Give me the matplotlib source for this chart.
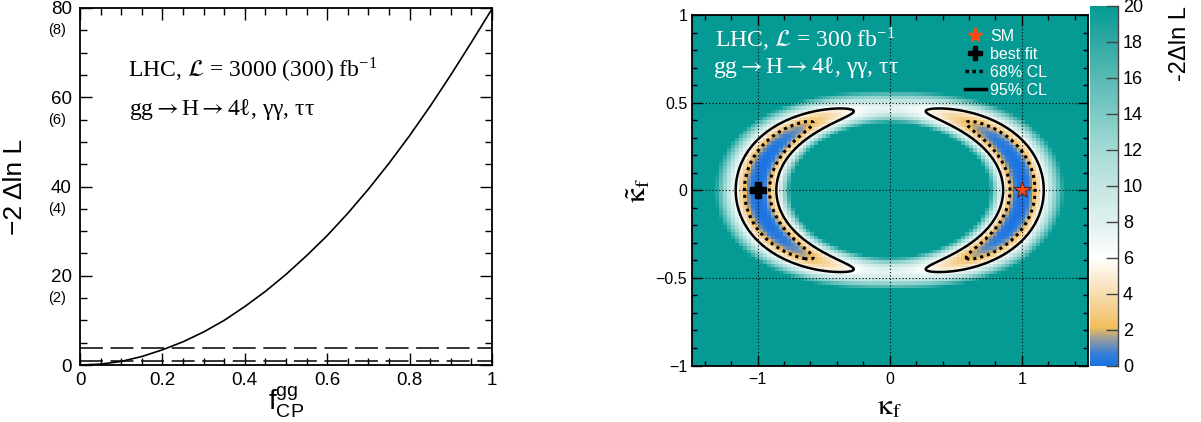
import numpy as np
import matplotlib
matplotlib.use("Agg")
import matplotlib.pyplot as plt
from matplotlib.colors import LinearSegmentedColormap
from matplotlib.lines import Line2D
from matplotlib.ticker import MultipleLocator
import matplotlib.transforms as mtransforms

plt.rcParams['font.family'] = ['Liberation Sans', 'DejaVu Sans']
plt.rcParams['mathtext.fontset'] = 'custom'
plt.rcParams['mathtext.rm'] = 'Liberation Sans'
plt.rcParams['mathtext.it'] = 'Liberation Sans:italic'
plt.rcParams['mathtext.bf'] = 'Liberation Sans:bold'

# ---------------- left panel data (3000 fb^-1 scan) ----------------
fcp_values = [0.00, 0.05, 0.10, 0.15, 0.20, 0.25, 0.30, 0.35, 0.40, 0.45, 0.50,
              0.55, 0.60, 0.65, 0.70, 0.75, 0.80, 0.85, 0.90, 0.95, 1.00]
nll_fcp = [0.0, 0.2, 0.8, 1.9, 3.4, 5.2, 7.4, 10.0, 13.1, 16.5, 20.3,
           24.5, 29.0, 34.0, 39.4, 45.2, 51.4, 58.0, 65.0, 72.3, 79.8]
cl_thresholds = [1.0, 3.84]
left_yticks = [0, 20, 40, 60, 80]
left_xticks = [0, 0.2, 0.4, 0.6, 0.8, 1]
sub_label_pos = [15, 35, 55, 75]
sub_label_text = ['(2)', '(4)', '(6)', '(8)']

# ---------------- right panel (300 fb^-1 likelihood map) ----------------
kappa_lim = [-1.5, 1.5]
kappa_tilde_lim = [-1.0, 1.0]
n_bins = [100, 100]
rate_coeffs = [4.0, 2.5]        # kt^2 and kt^4 weights of the rate ridge
rate_log_width = 0.125           # width of rate constraint (log scale)
cp_mixing = 2.7                  # relative weight of CP-odd term in f_CP
cp_penalty = 7.7                 # -2lnL at f_CP = 1 for 300 fb^-1
contour_levels = [2.30, 5.99]
sm_point = [1.0, 0.0]
best_fit_point = [-1.0, 0.0]
cbar_ticks = [0, 2, 4, 6, 8, 10, 12, 14, 16, 18, 20]
cmap_stops = [0, 0.6, 1.4, 2.1, 3.0, 4.5, 6, 8, 12, 16, 20]
cmap_colors = ['#1c73e3', '#2f7ed8', '#8e98a2', '#f1bd5c', '#f4cd88', '#f9e5c4',
               '#ffffff', '#dff1ef', '#a5dad6', '#58bab4', '#069a94']


def nll_map(k, kt):
    r = k**2 + rate_coeffs[0] * kt**2 + rate_coeffs[1] * kt**4
    r = np.maximum(r, 1e-9)
    rate_term = (np.log(r) / rate_log_width) ** 2
    f = cp_mixing * kt**2 / np.maximum(k**2 + cp_mixing * kt**2, 1e-12)
    return rate_term + cp_penalty * f**2


fig = plt.figure(figsize=(12.01, 4.22), dpi=100)
W, H = 1201.0, 422.0

serif = ['Liberation Serif', 'DejaVu Serif']
proc_text = 'gg$\\rightarrow$H$\\rightarrow$4\u2113, \u03b3\u03b3, \u03c4\u03c4'

# ================= left panel =================
ax1 = fig.add_axes([80 / W, 1 - 365 / H, 412 / W, 357 / H])
ax1.plot(fcp_values, nll_fcp, color='black', lw=1.2)
for v in cl_thresholds:
    ax1.axhline(v, color='black', lw=1.1, ls=(0, (15, 5)))
ax1.set_xlim(0, 1)
ax1.set_ylim(0, 80)
ax1.set_xticks(left_xticks)
ax1.set_xticklabels(['0', '0.2', '0.4', '0.6', '0.8', '1'])
ax1.set_yticks(left_yticks)
ax1.xaxis.set_minor_locator(MultipleLocator(0.05))
ax1.yaxis.set_minor_locator(MultipleLocator(5))
ax1.tick_params(which='both', direction='in', top=True, right=True, width=1.0)
ax1.tick_params(which='major', length=8.5, labelsize=13.5)
ax1.tick_params(which='minor', length=5)
ax1.tick_params(axis='y', pad=6)
ax1.tick_params(axis='x', pad=5)
for s in ax1.spines.values():
    s.set_linewidth(1.3)
trans = mtransforms.blended_transform_factory(ax1.transAxes, ax1.transData)
for p, t in zip(sub_label_pos, sub_label_text):
    ax1.text(-0.055, p, t, transform=trans, ha='center', va='center', fontsize=10.5)
ax1.set_ylabel('\u22122 \u0394ln L', fontsize=19)
ax1.yaxis.set_label_coords(-0.128, 0.5)
ax1.set_xlabel(r'$\mathrm{f}^{\mathrm{gg}}_{\mathrm{CP}}$', fontsize=20)
ax1.xaxis.set_label_coords(0.5, -0.055)
ax1.xaxis.label.set_va('top')
ax1.text(0.117, 0.825, r'LHC, $\mathcal{L}$ = 3000 (300) fb$^{\mathregular{-1}}$',
         transform=ax1.transAxes, fontsize=17, va='center', ha='left',
         family=serif, math_fontfamily='stix')
ax1.text(0.12, 0.715, proc_text,
         transform=ax1.transAxes, fontsize=17, va='center', ha='left',
         family=serif, math_fontfamily='stix')

# ================= right panel =================
ax2 = fig.add_axes([691.5 / W, 1 - 365.5 / H, 396.5 / W, 350.5 / H])
k_edges = np.linspace(kappa_lim[0], kappa_lim[1], n_bins[0] + 1)
kt_edges = np.linspace(kappa_tilde_lim[0], kappa_tilde_lim[1], n_bins[1] + 1)
k_cent = 0.5 * (k_edges[1:] + k_edges[:-1])
kt_cent = 0.5 * (kt_edges[1:] + kt_edges[:-1])
KC, KTC = np.meshgrid(k_cent, kt_cent)
Z = nll_map(KC, KTC)

cmap = LinearSegmentedColormap.from_list(
    'root_like', [(s / 20.0, c) for s, c in zip(cmap_stops, cmap_colors)])
mesh = ax2.pcolormesh(k_edges, kt_edges, np.clip(Z, 0, 20), cmap=cmap,
                      vmin=0, vmax=20, shading='flat', rasterized=True)

kf = np.linspace(kappa_lim[0], kappa_lim[1], 601)
ktf = np.linspace(kappa_tilde_lim[0], kappa_tilde_lim[1], 401)
KF, KTF = np.meshgrid(kf, ktf)
ZF = nll_map(KF, KTF)
ax2.contour(KF, KTF, ZF, levels=[contour_levels[0]], colors='black',
            linewidths=2.2, linestyles=[(0, (1, 1.3))])
ax2.contour(KF, KTF, ZF, levels=[contour_levels[1]], colors='black',
            linewidths=1.8, linestyles='solid')

for xv in [-1, 0, 1]:
    ax2.axvline(xv, color='black', lw=0.8, ls=(0, (1, 2)), zorder=3)
for yv in [-0.5, 0, 0.5]:
    ax2.axhline(yv, color='black', lw=0.8, ls=(0, (1, 2)), zorder=3)

ax2.plot([best_fit_point[0]], [best_fit_point[1]], marker='P', color='black',
         markersize=11, ls='none', zorder=5)
ax2.plot([sm_point[0]], [sm_point[1]], marker='*', color='#ff4a12',
         markeredgecolor='#551100', markeredgewidth=0.6, markersize=13,
         ls='none', zorder=6)

ax2.set_xlim(kappa_lim)
ax2.set_ylim(kappa_tilde_lim)
ax2.set_xticks([-1, 0, 1])
ax2.set_xticklabels(['\u22121', '0', '1'])
ax2.set_yticks([-1, -0.5, 0, 0.5, 1])
ax2.set_yticklabels(['\u22121', '\u22120.5', '0', '0.5', '1'])
ax2.xaxis.set_minor_locator(MultipleLocator(0.2))
ax2.yaxis.set_minor_locator(MultipleLocator(0.1))
ax2.tick_params(which='both', direction='in', top=True, right=True, width=1.0)
ax2.tick_params(which='major', length=7, labelsize=11.5)
ax2.tick_params(which='minor', length=3.5)
ax2.tick_params(axis='y', pad=3)
ax2.tick_params(axis='x', pad=5)
for s in ax2.spines.values():
    s.set_linewidth(1.3)

ax2.set_xlabel('$\\mathrm{\u03ba}_{\\mathrm{f}}$', fontsize=21, math_fontfamily='stix')
ax2.xaxis.set_label_coords(0.5, -0.075)
ax2.xaxis.label.set_va('top')
ax2.set_ylabel('$\\tilde{\\mathrm{\u03ba}}_{\\mathrm{f}}$', fontsize=21,
               math_fontfamily='stix')
ax2.yaxis.set_label_coords(-0.1, 0.5)

ax2.text(0.059, 0.93, r'LHC, $\mathcal{L}$ = 300 fb$^{\mathregular{-1}}$',
         transform=ax2.transAxes, fontsize=17, va='center', ha='left', color='white',
         family=serif, math_fontfamily='stix')
ax2.text(0.055, 0.85, proc_text,
         transform=ax2.transAxes, fontsize=17, va='center', ha='left', color='white',
         family=serif, math_fontfamily='stix')

handles = [
    Line2D([], [], marker='*', color='#ff4a12', ls='none', markersize=11),
    Line2D([], [], marker='P', color='black', ls='none', markersize=10),
    Line2D([], [], color='black', ls=(0, (1, 1)), lw=2.5),
    Line2D([], [], color='black', lw=2.5),
]
labels = ['SM', 'best fit', '68% CL', '95% CL']
leg = ax2.legend(handles, labels, loc='upper left', bbox_to_anchor=(0.69, 0.96),
                 frameon=False, fontsize=11.5, labelcolor='white',
                 handlelength=1.3, handletextpad=0.25, labelspacing=0.18,
                 borderaxespad=0, borderpad=0)

# colorbar
cax = fig.add_axes([1090 / W, 1 - 366 / H, 27.5 / W, 360 / H])
cb = fig.colorbar(mesh, cax=cax, ticks=cbar_ticks)
cb.outline.set_visible(False)
cax.tick_params(direction='in', length=9, width=1.0, color='#444444',
                labelsize=13, pad=4, right=True, left=False)
cax.plot([1, 1], [0, 1], transform=cax.transAxes, color='#444444', lw=1.0,
         clip_on=False)
fig.text(1180 / W, 1 - 6 / H, '-2\u0394ln L', rotation=90, ha='center', va='top',
         fontsize=17)

fig.savefig('out.png', dpi=100)
